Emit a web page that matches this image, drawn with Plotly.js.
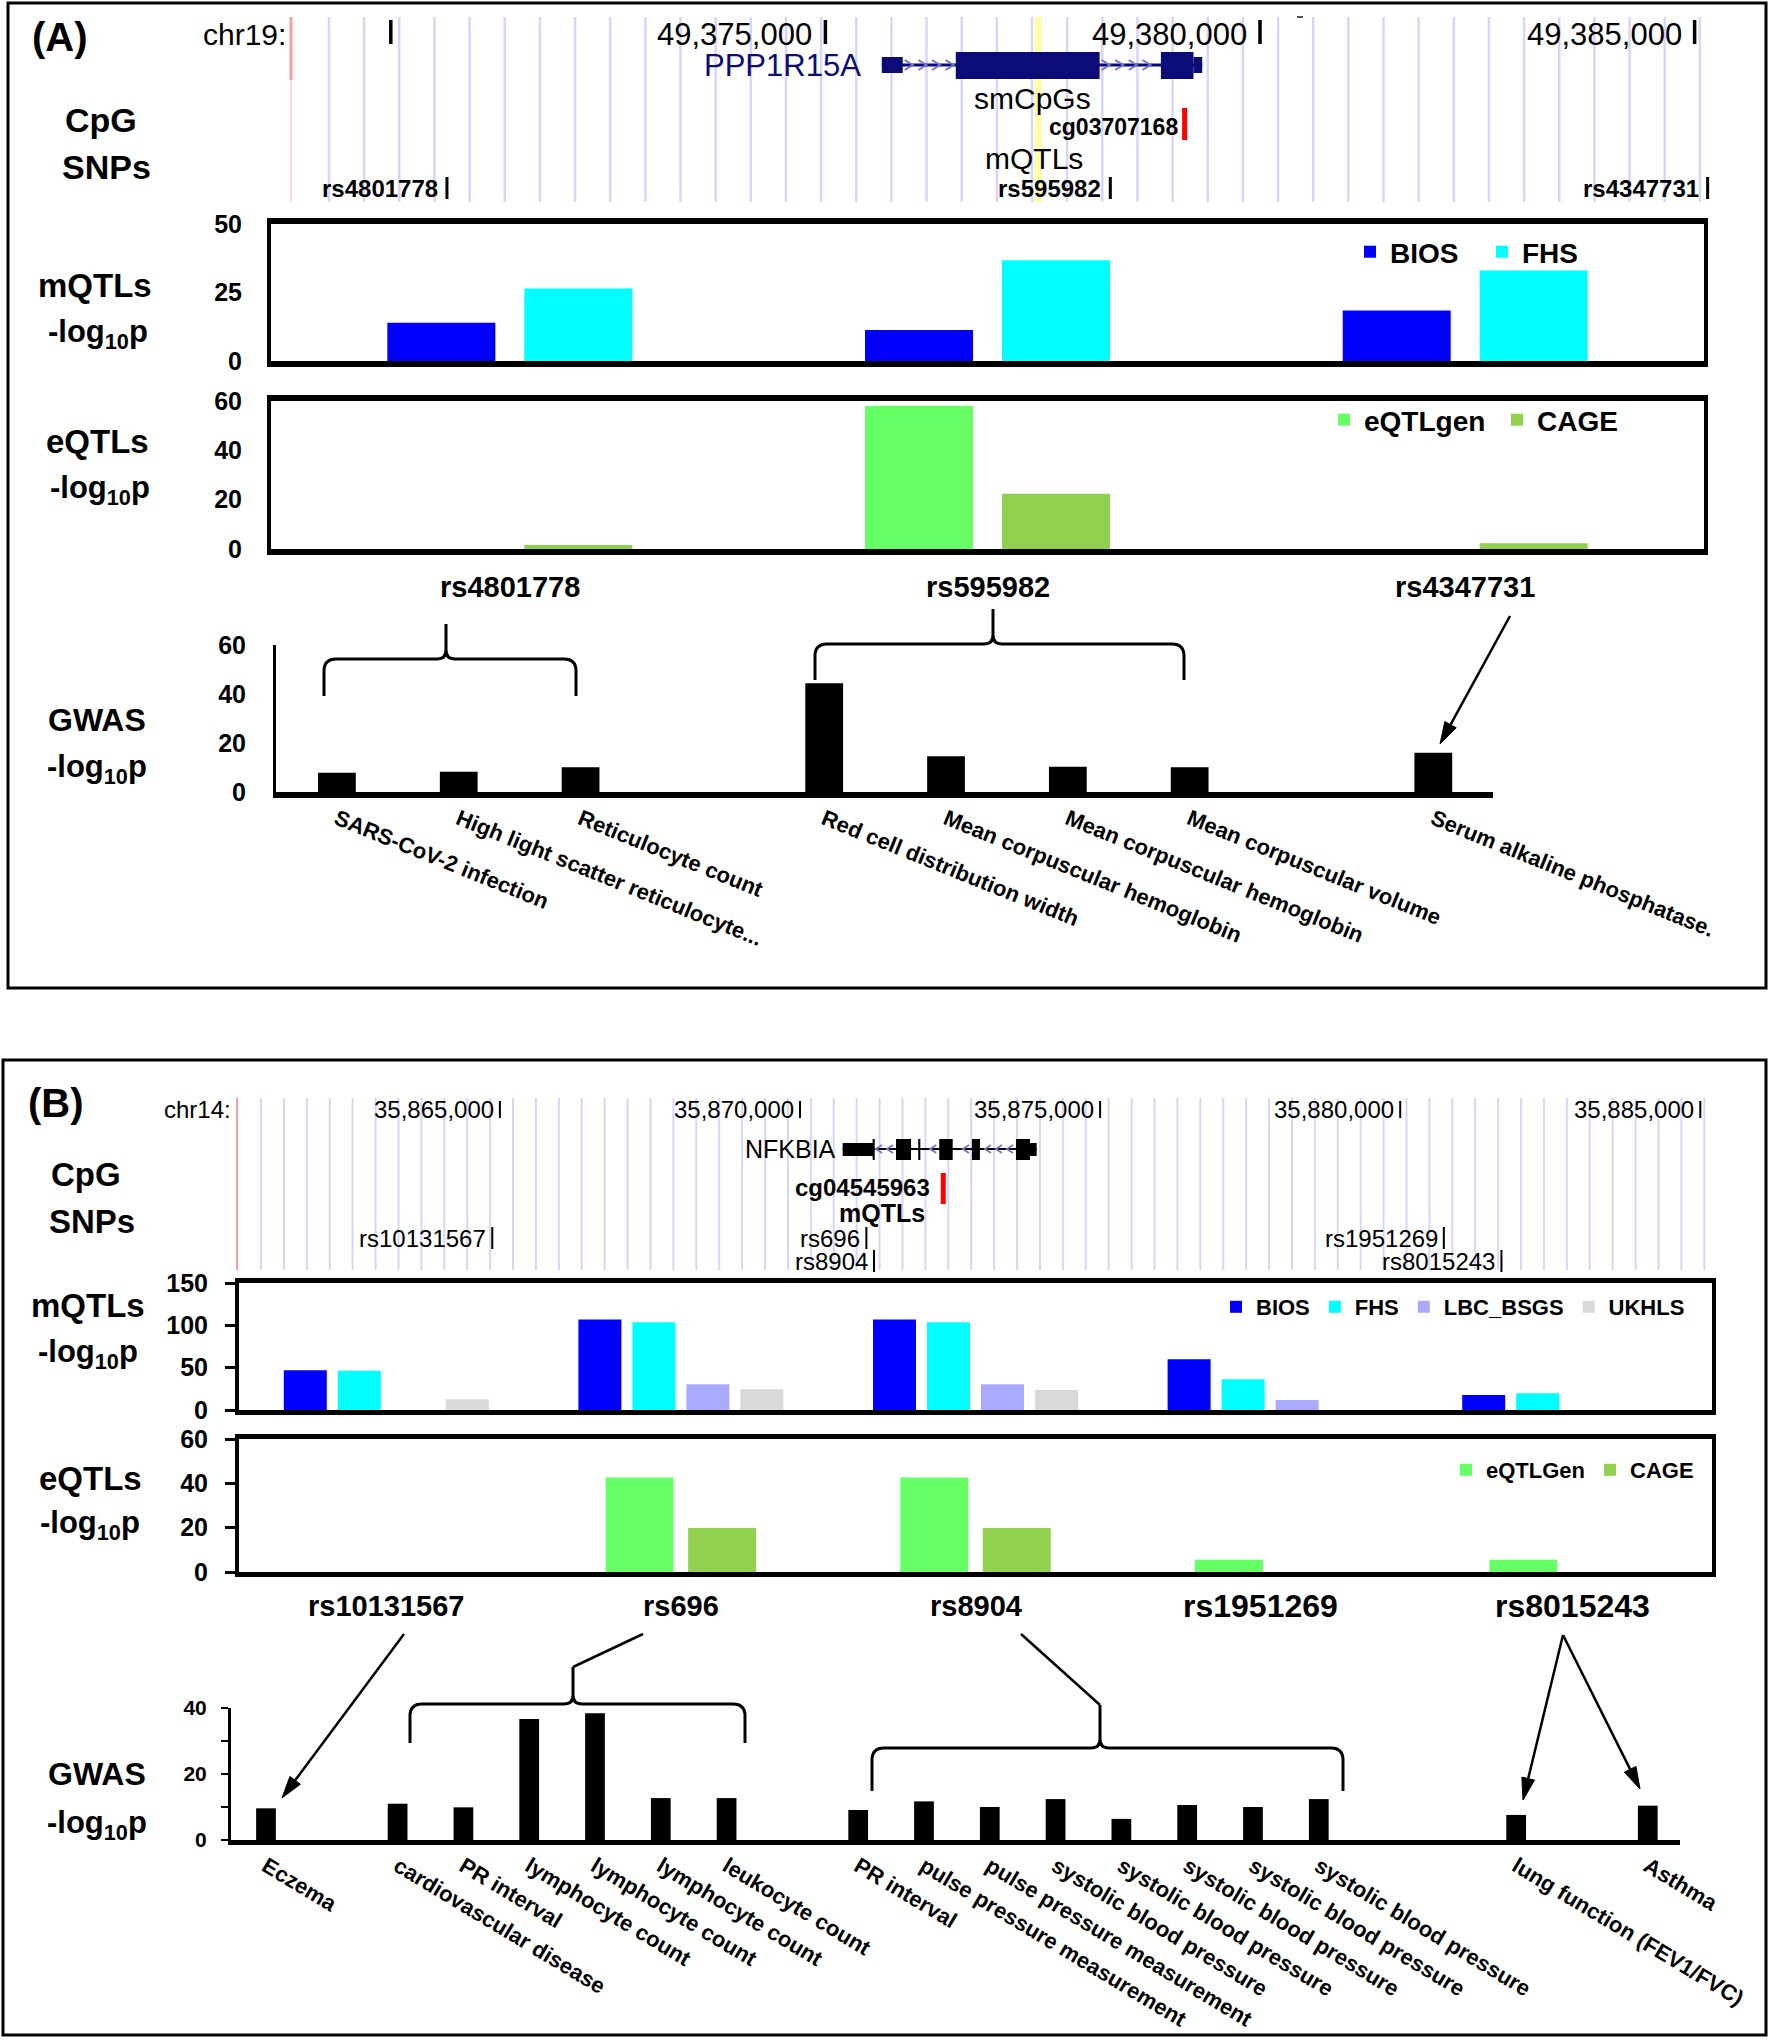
<!DOCTYPE html>
<html><head><meta charset="utf-8">
<script src="https://cdn.plot.ly/plotly-3.0.1.min.js"></script>
<style>body{margin:0;background:#fff}</style>
</head><body><div id="chart" style="width:1770px;height:2040px"></div>
<script>
// ================= DATA =================
// Panel A
const snpsA = ['rs4801778', 'rs595982', 'rs4347731'];
const mqtlA_BIOS = [14.0, 11.3, 18.4];
const mqtlA_FHS = [26.5, 36.8, 33.0];
const eqtlA_eQTLgen = [null, 58.1, null];
const eqtlA_CAGE = [1.6, 22.4, 2.3];
const gwasA_traits = ['SARS-CoV-2 infection', 'High light scatter reticulocyte...', 'Reticulocyte count', '',
  'Red cell distribution width', 'Mean corpuscular hemoglobin', 'Mean corpuscular hemoglobin', 'Mean corpuscular volume', '',
  'Serum alkaline phosphatase.'];
const gwasA_vals = [7.9, 8.3, 10.1, null, 44.4, 14.6, 10.3, 10.1, null, 16.0];

// Panel B
const snpsB = ['rs10131567', 'rs696', 'rs8904', 'rs1951269', 'rs8015243'];
const mqtlB_BIOS = [47.0, 107.0, 107.0, 59.9, 17.7];
const mqtlB_FHS = [46.4, 103.6, 103.6, 36.3, 19.7];
const mqtlB_LBC = [null, 30.3, 30.3, 11.8, null];
const mqtlB_UKHLS = [12.6, 24.4, 23.6, null, null];
const eqtlB_eQTLGen = [null, 42.6, 42.6, 5.5, 5.5];
const eqtlB_CAGE = [null, 19.9, 19.9, null, null];
const gwasB_traits = ['Eczema', '', 'cardiovascular disease', 'PR interval', 'lymphocyte count', 'lymphocyte count',
  'lymphocyte count', 'leukocyte count', '', 'PR interval', 'pulse pressure measurement', 'pulse pressure measurement',
  'systolic blood pressure', 'systolic blood pressure', 'systolic blood pressure', 'systolic blood pressure',
  'systolic blood pressure', '', '', 'lung function (FEV1/FVC)', '', 'Asthma'];
const gwasB_vals = [9.6, null, 11.0, 9.9, 36.7, 38.4, 12.7, 12.7, null, 9.1, 11.7, 10.0, 12.4, 6.4, 10.6, 10.0, 12.4,
  null, null, 7.6, null, 10.4];

// Genome browser tracks
const chrA = 'chr19:';
const gTicksA = [49370000, 49375000, 49380000, 49385000];
const gTickLabelsA = ['', '49,375,000', '49,380,000', '49,385,000'];
const geneA = 'PPP1R15A';
const geneA_exons = [[49375649, 49375890, 'utr'], [49376500, 49378155, 'cds'], [49378860, 49379235, 'cds'], [49379235, 49379335, 'utr']];
const cpgA = 'cg03707168', cpgA_pos = 49379133, smcpgA_pos = 49377446;
const snpA_pos = [49370646, 49378278, 49385150];

const chrB = 'chr14:';
const gTicksB = [35865000, 35870000, 35875000, 35880000, 35885000];
const gTickLabelsB = ['35,865,000', '35,870,000', '35,875,000', '35,880,000', '35,885,000'];
const geneB = 'NFKBIA';
const geneB_exons = [[35870711, 35871221, 'utr'], [35871210, 35871245, 'cds'], [35871599, 35871849, 'cds'], [35871970, 35872005, 'cds'],
  [35872320, 35872544, 'cds'], [35872865, 35872998, 'cds'], [35873598, 35873832, 'cds'], [35873832, 35873943, 'utr']];
const cpgB = 'cg04545963', cpgB_pos = 35872387;
const snpB_pos = [35864873, 35871106, 35871233, 35880727, 35881687];
const snpB_row = [0, 0, 1, 0, 1];

// ================= STYLE / LAYOUT HELPERS =================
const FONT = 'Liberation Sans, Arial, Helvetica, sans-serif';
const W = 1770, H = 2040;
const PX = x => x / W, PY = y => 1 - y / H;
const hd = (a, b) => [a / W, b / W];
const vd = (t, b) => [1 - b / H, 1 - t / H];
const C = {BIOS: '#0000ff', FHS: '#00ffff', LBC: '#aaaaff', UKHLS: '#d9d9d9', EQ: '#66ff66', CAGE: '#92d050'};

const A_REF_BP = 49375000, A_REF_PX = 825.4, A_PPB = 434.6 / 5000;
const B_REF_BP = 35865000, B_REF_PX = 499.9, B_PPB = 300.1 / 5000;
const rangeFor = (rb, rp, ppb) => [rb - rp / ppb, rb + (W - rp) / ppb];

const shapes = [], ann = [];
function lineP(x0, y0, x1, y1, color, width, layer) {
  shapes.push({type: 'line', xref: 'paper', yref: 'paper', x0: PX(x0), y0: PY(y0), x1: PX(x1), y1: PY(y1), line: {color, width}, layer: layer || 'above'});
}
function rectP(x0, y0, x1, y1, color, width) {
  shapes.push({type: 'rect', xref: 'paper', yref: 'paper', x0: PX(x0), y0: PY(y0), x1: PX(x1), y1: PY(y1), line: {color, width}, fillcolor: 'rgba(0,0,0,0)'});
}
function lineG(ax, bp, y0, y1, color, width) {
  shapes.push({type: 'line', xref: ax, yref: 'paper', x0: bp, x1: bp, y0: PY(y0), y1: PY(y1), line: {color, width}});
}
function rectG(ax, b0, b1, y0, y1, color, layer) {
  shapes.push({type: 'rect', xref: ax, yref: 'paper', x0: b0, x1: b1, y0: PY(y0), y1: PY(y1), fillcolor: color, line: {width: 0}, layer: layer || 'above'});
}
function pathTok(tokens, fx) {
  let s = '', isX = true;
  for (const t of tokens) {
    if (typeof t === 'string') { s += t + ' '; isX = true; }
    else { s += isX ? fx(t) + ',' : PY(t) + ' '; isX = !isX; }
  }
  return s;
}
function pathP(tokens, color, width, fill) {
  shapes.push({type: 'path', xref: 'paper', yref: 'paper', path: pathTok(tokens, PX), line: {color, width},
    fillcolor: fill || 'rgba(0,0,0,0)'});
}
function pathG(ax, tokens, color, width) {
  shapes.push({type: 'path', xref: ax, yref: 'paper', path: pathTok(tokens, v => v), line: {color, width}});
}
function txt(x, y, text, size, bold, xanchor, extra) {
  ann.push(Object.assign({xref: 'paper', yref: 'paper', x: PX(x), y: PY(y), text, showarrow: false,
    xanchor: xanchor || 'center', yanchor: 'middle',
    font: {family: FONT, size, color: 'black', weight: bold ? 'bold' : 'normal'}}, extra || {}));
}
function gtxt(ax, bp, y, text, size, bold, xshift, color) {
  ann.push({xref: ax, yref: 'paper', x: bp, y: PY(y), text, showarrow: false, xanchor: 'right', yanchor: 'middle', xshift,
    font: {family: FONT, size, color: color || 'black', weight: bold ? 'bold' : 'normal'}});
}
function brace(x0, x1, yH, yEnd, xp, yPeak) {
  const r = 12, rp = 9;
  pathP(['M', x0, yEnd, 'L', x0, yH + r, 'Q', x0, yH, x0 + r, yH, 'L', xp - rp, yH, 'Q', xp, yH, xp, yH - rp, 'L', xp, yPeak,
    'M', xp, yH - rp, 'Q', xp, yH, xp + rp, yH, 'L', x1 - r, yH, 'Q', x1, yH, x1, yH + r, 'L', x1, yEnd], 'black', 3);
}
function arrow(hx, hy, tx, ty) {
  const dx = hx - tx, dy = hy - ty, len = Math.hypot(dx, dy), ux = dx / len, uy = dy / len;
  const L = 22, hw = 6.5, bx = hx - ux * L, by = hy - uy * L;
  lineP(tx, ty, bx + ux * 2, by + uy * 2, 'black', 2.5);
  pathP(['M', hx, hy, 'L', bx - uy * hw, by + ux * hw, 'L', bx + uy * hw, by - ux * hw, 'Z'], 'black', 1, 'black');
}

// ================= GENOME TRACK A =================
for (let i = 0; i < 40; i++) { const x = 329 + i * 35.15; lineP(x, 17, x, 202, 'rgb(214,214,250)', 2.5, 'below'); }
rectG('x7', smcpgA_pos - 40, smcpgA_pos + 40, 17, 202, 'rgb(255,255,165)', 'below');
lineP(291, 17, 291, 80, '#f4a0a0', 3); lineP(291, 80, 291, 202, '#fbcaca', 1.5);
gTicksA.forEach((t, i) => { lineG('x7', t, 20, 44, 'black', 3.5); if (gTickLabelsA[i]) gtxt('x7', t, 34, gTickLabelsA[i], 31, false, -11); });
lineP(1297, 17, 1303, 17, '#555', 2);
txt(288, 34, chrA, 30, false, 'right');
// gene A
const NAVY = '#0c0c78';
shapes.push({type: 'line', xref: 'x7', yref: 'paper', x0: geneA_exons[0][0], x1: geneA_exons[geneA_exons.length - 1][1], y0: PY(65), y1: PY(65), line: {color: NAVY, width: 3}});
for (let i = 0; i < geneA_exons.length - 1; i++) {
  const a = geneA_exons[i][1], b = geneA_exons[i + 1][0];
  const step = 13.6 / A_PPB, dx = 4 / A_PPB;
  for (let c = a + 6 / A_PPB; c < b - 4 / A_PPB; c += step)
    pathG('x7', ['M', c - dx, 60, 'L', c + dx, 65, 'L', c - dx, 70], '#7474cc', 2);
}
geneA_exons.forEach(e => { if (e[2] === 'utr') rectG('x7', e[0], e[1], 57, 73, NAVY); else rectG('x7', e[0], e[1], 52, 79, NAVY); });
gtxt('x7', geneA_exons[0][0], 66, geneA, 31, false, -19, NAVY);
txt(1032, 98, 'smCpGs', 30, false);
rectG('x7', cpgA_pos - 2.5 / A_PPB, cpgA_pos + 2.5 / A_PPB, 108, 140, '#ff0000');
gtxt('x7', cpgA_pos, 127, cpgA, 23, true, -5);
txt(1034, 159, 'mQTLs', 30, false);
snpsA.forEach((s, i) => { lineG('x7', snpA_pos[i], 177, 199, 'black', 3); gtxt('x7', snpA_pos[i], 188, s, 24, true, -7); });
txt(60, 37, '(A)', 40, true);
txt(101, 120, 'CpG', 34, true);
txt(106, 167, 'SNPs', 34, true);

// ================= PANEL A CHART LABELS =================
txt(95, 286, 'mQTLs', 33, true); txt(98, 334, '-log<sub>10</sub>p', 31, true);
txt(97, 441, 'eQTLs', 33, true); txt(100, 490, '-log<sub>10</sub>p', 31, true);
txt(97, 720, 'GWAS', 32, true); txt(97, 769, '-log<sub>10</sub>p', 31, true);
snpsA.forEach(s => ann.push({xref: 'x2', yref: 'paper', x: s, y: PY(587), text: s, showarrow: false, yanchor: 'middle',
  font: {family: FONT, size: 29, weight: 'bold', color: 'black'}}));
brace(324, 576, 659, 696, 446, 624);
brace(815, 1184, 644, 680, 993, 609);
arrow(1440, 744, 1510, 616);
rectP(8, 3, 1766, 988, 'black', 3);

// ================= GENOME TRACK B =================
for (let i = 0; i < 64; i++) { const x = 261 + i * 22.91; lineP(x, 1098, x, 1270, 'rgb(214,214,250)', 2, 'below'); }
lineP(237, 1098, 237, 1270, '#f4a0a0', 2);
txt(233, 1109, chrB, 24, false, 'right');
gTicksB.forEach((t, i) => { lineG('x8', t, 1101, 1118, 'black', 2); gtxt('x8', t, 1109, gTickLabelsB[i], 24, false, -4); });
shapes.push({type: 'line', xref: 'x8', yref: 'paper', x0: geneB_exons[0][0], x1: geneB_exons[geneB_exons.length - 1][1], y0: PY(1149), y1: PY(1149), line: {color: 'black', width: 2}});
for (let i = 0; i < geneB_exons.length - 1; i++) {
  const a = geneB_exons[i][1], b = geneB_exons[i + 1][0];
  const step = 11 / B_PPB, dx = 3 / B_PPB;
  for (let c = b - 6 / B_PPB; c > a + 4 / B_PPB; c -= step)
    pathG('x8', ['M', c + dx, 1145, 'L', c - dx, 1149, 'L', c + dx, 1153], '#7474cc', 1.8);
}
geneB_exons.forEach(e => { if (e[2] === 'utr') rectG('x8', e[0], e[1], 1143, 1156, 'black'); else rectG('x8', e[0], e[1], 1139, 1160, 'black'); });
gtxt('x8', geneB_exons[0][0], 1149, geneB, 25, false, -5);
rectG('x8', cpgB_pos - 2.5 / B_PPB, cpgB_pos + 2.5 / B_PPB, 1173, 1204, '#ff0000');
gtxt('x8', cpgB_pos, 1187, cpgB, 24, true, -11);
txt(882, 1213, 'mQTLs', 25, true);
snpsB.forEach((s, i) => { const y = 1238 + snpB_row[i] * 23; lineG('x8', snpB_pos[i], y - 11, y + 11, 'black', 2); gtxt('x8', snpB_pos[i], y, s, 24, false, -4); });
txt(56, 1103, '(B)', 40, true);
txt(86, 1174, 'CpG', 33, true);
txt(92, 1221, 'SNPs', 33, true);

// ================= PANEL B CHART LABELS =================
txt(88, 1305, 'mQTLs', 33, true); txt(88, 1354, '-log<sub>10</sub>p', 31, true);
txt(90, 1478, 'eQTLs', 33, true); txt(90, 1525, '-log<sub>10</sub>p', 31, true);
txt(97, 1774, 'GWAS', 32, true); txt(97, 1825, '-log<sub>10</sub>p', 31, true);
const catShiftB = [0, 0, 0, -10, 8];
snpsB.forEach((s, i) => ann.push({xref: 'x5', yref: 'paper', x: s, y: PY(1606), text: s, showarrow: false, yanchor: 'middle',
  xshift: catShiftB[i], font: {family: FONT, size: i >= 3 ? 32 : 29, weight: 'bold', color: 'black'}}));
brace(410, 745, 1704, 1743, 573, 1667); lineP(573, 1667, 643, 1634, 'black', 2.5);
brace(872, 1343, 1748, 1791, 1100, 1705); lineP(1100, 1705, 1021, 1634, 'black', 2.5);
arrow(282, 1798, 404, 1634);
arrow(1523, 1800, 1563, 1635);
arrow(1640, 1789, 1563, 1635);
rectP(3, 1060, 1766, 2035, 'black', 3);

// ================= TRACES =================
const idxA = gwasA_traits.map((_, i) => i), idxB = gwasB_traits.map((_, i) => i);
function bar(x, y, color, name, xa, ya, offset, width, legend) {
  return {type: 'bar', x, y, name, marker: {color, line: {width: 0}}, xaxis: xa, yaxis: ya, offset, width,
    showlegend: !!legend, legend: legend || 'legend', hoverinfo: 'x+y+name'};
}
const sA = 137 / 477.7, wA = 108 / 477.7;
const sB = 54 / 294.6, wB = 43 / 294.6;
const sBe = 82.5 / 294.6, wBe = 68 / 294.6;
const traces = [
  bar(snpsA, mqtlA_BIOS, C.BIOS, 'BIOS', 'x', 'y', -sA + (sA - wA) / 2, wA, 'legend'),
  bar(snpsA, mqtlA_FHS, C.FHS, 'FHS', 'x', 'y', (sA - wA) / 2, wA, 'legend'),
  bar(snpsA, eqtlA_eQTLgen, C.EQ, 'eQTLgen', 'x2', 'y2', -sA + (sA - wA) / 2, wA, 'legend2'),
  bar(snpsA, eqtlA_CAGE, C.CAGE, 'CAGE', 'x2', 'y2', (sA - wA) / 2, wA, 'legend2'),
  bar(idxA, gwasA_vals, 'black', 'GWAS', 'x3', 'y3', -0.155, 0.31, null),
  bar(snpsB, mqtlB_BIOS, C.BIOS, 'BIOS', 'x4', 'y4', -1.5 * sB - wB / 2, wB, 'legend3'),
  bar(snpsB, mqtlB_FHS, C.FHS, 'FHS', 'x4', 'y4', -0.5 * sB - wB / 2, wB, 'legend3'),
  bar(snpsB, mqtlB_LBC, C.LBC, 'LBC_BSGS', 'x4', 'y4', 0.5 * sB - wB / 2, wB, 'legend3'),
  bar(snpsB, mqtlB_UKHLS, C.UKHLS, 'UKHLS', 'x4', 'y4', 1.5 * sB - wB / 2, wB, 'legend3'),
  bar(snpsB, eqtlB_eQTLGen, C.EQ, 'eQTLGen', 'x5', 'y5', -0.5 * sBe - wBe / 2, wBe, 'legend4'),
  bar(snpsB, eqtlB_CAGE, C.CAGE, 'CAGE', 'x5', 'y5', 0.5 * sBe - wBe / 2, wBe, 'legend4'),
  bar(idxB, gwasB_vals, 'black', 'GWAS', 'x6', 'y6', -0.15, 0.30, null)
];

// ================= AXES =================
const tf = s => ({family: FONT, size: s, color: 'black', weight: 'bold'});
const frameX = (dom, anchor, cats, lw) => ({domain: dom, anchor, type: 'category', categoryarray: cats, categoryorder: 'array',
  range: [-0.5, cats.length - 0.5], showline: true, mirror: true, linewidth: lw, linecolor: 'black', showticklabels: false,
  ticks: '', showgrid: false, zeroline: false, fixedrange: true});
const frameY = (dom, anchor, rng, tv, lw, ticks, stand) => ({domain: dom, anchor, range: rng, tickvals: tv, showline: true, mirror: true,
  linewidth: lw, linecolor: 'black', ticks: ticks ? 'outside' : '', ticklen: 10, tickwidth: 3, tickcolor: 'black',
  tickfont: tf(25), ticklabelstandoff: stand, showgrid: false, zeroline: false, fixedrange: true});

const layout = {
  width: W, height: H, margin: {l: 0, r: 0, t: 0, b: 0}, paper_bgcolor: 'white', plot_bgcolor: 'rgba(0,0,0,0)',
  barmode: 'overlay', font: {family: FONT, color: 'black'}, showlegend: true,
  xaxis: frameX(hd(271, 1704), 'y', snpsA, 6),
  yaxis: frameY(vd(224, 361), 'x', [0, 50], [0, 25, 50], 4, false, 20),
  xaxis2: frameX(hd(271, 1704), 'y2', snpsA, 6),
  yaxis2: frameY(vd(401, 549), 'x2', [0, 60], [0, 20, 40, 60], 4, false, 20),
  xaxis3: {domain: hd(276, 1493), anchor: 'y3', range: [-0.5, 9.49], tickvals: idxA.filter(i => gwasA_traits[i]),
    ticktext: gwasA_traits.filter(t => t), tickangle: 22, tickfont: tf(22), showline: true, linewidth: 6, linecolor: 'black',
    ticks: '', showgrid: false, zeroline: false, fixedrange: true},
  yaxis3: {domain: vd(645, 792), anchor: 'x3', range: [0, 60], tickvals: [0, 20, 40, 60], showline: true, linewidth: 3,
    linecolor: 'black', ticks: '', tickfont: tf(25), ticklabelstandoff: 22, showgrid: false, zeroline: false, fixedrange: true},
  xaxis4: frameX(hd(239, 1712), 'y4', snpsB, 5),
  yaxis4: frameY(vd(1283, 1410), 'x4', [0, 150], [0, 50, 100, 150], 4, true, 12),
  xaxis5: frameX(hd(239, 1712), 'y5', snpsB, 5),
  yaxis5: frameY(vd(1439, 1572), 'x5', [0, 60], [0, 20, 40, 60], 4, true, 12),
  xaxis6: {domain: hd(231, 1680), anchor: 'y6', range: [-0.532, 21.49], tickvals: idxB.filter(i => gwasB_traits[i]),
    ticktext: gwasB_traits.filter(t => t), tickangle: 31, tickfont: tf(22), showline: true, linewidth: 5, linecolor: 'black',
    ticks: '', showgrid: false, zeroline: false, fixedrange: true},
  yaxis6: {domain: vd(1708, 1840), anchor: 'x6', range: [0, 40], tickvals: [0, 20, 40],
    minor: {tickvals: [10, 30], ticks: 'outside', ticklen: 7, tickwidth: 2, tickcolor: 'black', showgrid: false},
    showline: true, linewidth: 3, linecolor: 'black', ticks: 'outside', ticklen: 7, tickwidth: 2, tickcolor: 'black',
    tickfont: tf(21), ticklabelstandoff: 10, showgrid: false, zeroline: false, fixedrange: true},
  xaxis7: {domain: [0, 1], anchor: 'y7', range: rangeFor(A_REF_BP, A_REF_PX, A_PPB), visible: false, fixedrange: true},
  yaxis7: {domain: [0, 1], anchor: 'x7', range: [0, 1], visible: false, fixedrange: true},
  xaxis8: {domain: [0, 1], anchor: 'y8', range: rangeFor(B_REF_BP, B_REF_PX, B_PPB), visible: false, fixedrange: true},
  yaxis8: {domain: [0, 1], anchor: 'x8', range: [0, 1], visible: false, fixedrange: true},
  legend: {x: PX(1350), y: PY(252), xanchor: 'left', yanchor: 'middle', orientation: 'h', font: tf(28), bgcolor: 'rgba(0,0,0,0)',
    entrywidth: 87, entrywidthmode: 'pixels'},
  legend2: {x: PX(1324), y: PY(420), xanchor: 'left', yanchor: 'middle', orientation: 'h', font: tf(28), bgcolor: 'rgba(0,0,0,0)',
    entrywidth: 128, entrywidthmode: 'pixels'},
  legend3: {x: PX(1216), y: PY(1307), xanchor: 'left', yanchor: 'middle', orientation: 'h', font: tf(22), bgcolor: 'rgba(0,0,0,0)'},
  legend4: {x: PX(1446), y: PY(1470), xanchor: 'left', yanchor: 'middle', orientation: 'h', font: tf(22), bgcolor: 'rgba(0,0,0,0)'},
  shapes, annotations: ann
};
// invisible marker traces that carry the SNP positions on the genome axes
traces.push({type: 'scatter', x: snpA_pos, y: snpA_pos.map(() => 0.5), xaxis: 'x7', yaxis: 'y7', mode: 'markers', marker: {opacity: 0}, showlegend: false, hoverinfo: 'skip'});
traces.push({type: 'scatter', x: snpB_pos, y: snpB_pos.map(() => 0.5), xaxis: 'x8', yaxis: 'y8', mode: 'markers', marker: {opacity: 0}, showlegend: false, hoverinfo: 'skip'});

Plotly.newPlot('chart', traces, layout, {displayModeBar: false, responsive: false});
</script></body></html>
